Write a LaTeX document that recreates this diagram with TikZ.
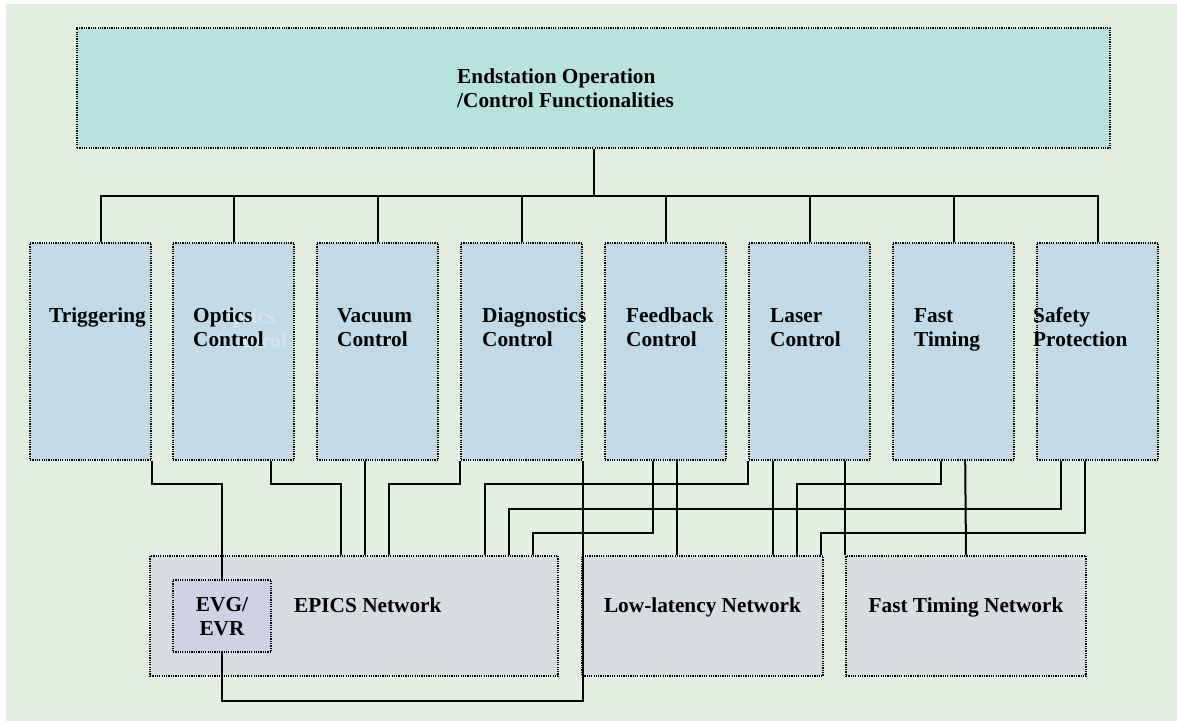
\documentclass[tikz,border=0pt]{standalone}
\usepackage{fontspec}
\setmainfont{Liberation Serif}
\usepackage{xcolor}
\usepackage{tikz}
\definecolor{bgGreen}{HTML}{E3EFDE}
\definecolor{topTeal}{HTML}{B8E2DE}
\definecolor{funcBlue}{HTML}{C2DAE5}
\definecolor{netGrey}{HTML}{D8DBE0}
\definecolor{evLilac}{HTML}{D0D1E4}
\definecolor{ghostBlue}{HTML}{D4E3EE}

\begin{document}
\begin{tikzpicture}[x=1pt,y=-1pt,font=\fontsize{21.3}{24}\selectfont\bfseries,
    box/.style={draw=black, line width=1.6pt, dash pattern=on 1.2pt off 1.1pt, inner sep=0pt,
                fill=funcBlue, minimum width=121pt, minimum height=217pt},
    net/.style={box, fill=netGrey, minimum height=120pt},
    txt/.style={anchor=base west, align=left, inner sep=0pt},
    wire/.style={draw=black, line width=2pt}]
  \useasboundingbox (0,0) rectangle (1177,721);
  \fill[bgGreen] (6,4) rectangle (1177,721);
  % ---- top level ----
  \node[box, fill=topTeal, minimum width=1033pt, minimum height=120pt] (top) at (593.5,88) {};
  \node[txt] (topT) at (457,107) {Endstation Operation\\/Control Functionalities};
  % ---- functions ----
  \node[box] (trig) at (90.5,351.5) {};
  \node[box] (opt)  at (233.5,351.5) {};
  \node[box] (vac)  at (377.5,351.5) {};
  \node[box] (diag) at (521.5,351.5) {};
  \node[box] (feed) at (665.5,351.5) {};
  \node[box] (las)  at (809.5,351.5) {};
  \node[box] (fast) at (953.5,351.5) {};
  \node[box] (safe) at (1097.5,351.5) {};
  \node[txt] (trigT) at (49,322) {Triggering};
  \node[txt, text=ghostBlue] (optG) at (216,347) {Optics\\Control};
  \node[txt] (optT)  at (193,346) {Optics\\Control};
  \node[txt] (vacT)  at (337,346) {Vacuum\\Control};
  \node[txt] (diagT) at (482,346) {Diagnostics\\Control};
  \node[txt] (feedT) at (626,346) {Feedback\\Control};
  \node[txt] (lasT)  at (770,346) {Laser\\Control};
  \node[txt] (fastT) at (914,346) {Fast\\Timing};
  \node[txt] (safeT) at (1033,346) {Safety\\Protection};
  % ---- networks ----
  \node[net, minimum width=408pt] (epics) at (354,616) {};
  \node[net, minimum width=241pt] (low)   at (702.5,616) {};
  \node[net, minimum width=240pt] (ftn)   at (966,616) {};
  \node[box, fill=evLilac, minimum width=98pt, minimum height=72pt] (evg) at (222,616) {};
  \node[txt] (epicsT) at (294,612) {EPICS Network};
  \node[txt, anchor=base] (lowT) at (702.5,612) {Low-latency Network};
  \node[txt, anchor=base] (ftnT) at (966,612) {Fast Timing Network};
  \node[txt, anchor=base, align=center] (evgT) at (222,635) {EVG/\\EVR};
  % ---- bus to the functions ----
  \coordinate (bus) at (593.5,196);
  \draw[wire] (top.south) -- (bus);
  \draw[wire] ([xshift=72pt]trig.north west) |- (safe.north |- bus) -- (safe.north);
  \draw[wire] (opt.north) -- (opt.north |- bus);
  \draw[wire] (vac.north) -- (vac.north |- bus);
  \draw[wire] (diag.north) -- (diag.north |- bus);
  \draw[wire] (feed.north) -- (feed.north |- bus);
  \draw[wire] (las.north) -- (las.north |- bus);
  \draw[wire] (fast.north) -- (fast.north |- bus);
  % ---- links to the networks ----
  \draw[wire] (trig.south east) -- ++(0,23) -| (evg.north);
  \draw[wire] ([xshift=-24pt]opt.south east) -- ++(0,23) -| ([xshift=192pt]epics.north west);
  \draw[wire] ([xshift=49pt]vac.south west) -- ([xshift=216pt]epics.north west);
  \draw[wire] (diag.south west) -- ++(0,23) -| ([xshift=240pt]epics.north west);
  \draw[wire] (diag.south east) -- ++(0,240) -| (evg.south);
  \draw[wire] ([xshift=49pt]feed.south west) -- ++(0,72) -| ([xshift=384pt]epics.north west);
  \draw[wire] ([xshift=73pt]feed.south west) -- ([xshift=96pt]low.north west);
  \draw[wire] (las.south west) -- ++(0,23) -| ([xshift=336pt]epics.north west);
  \draw[wire] ([xshift=25pt]las.south west) -- ([xshift=192pt]low.north west);
  \draw[wire] ([xshift=97pt]las.south west) -- (ftn.north west);
  \draw[wire] ([xshift=49pt]fast.south west) -- ++(0,23) -| ([xshift=216pt]low.north west);
  \draw[wire] ([xshift=73pt]fast.south west) -- (ftn.north);
  \draw[wire] ([xshift=25pt]safe.south west) -- ++(0,48) -| ([xshift=360pt]epics.north west);
  \draw[wire] ([xshift=49pt]safe.south west) -- ++(0,72) -| ([xshift=240pt]low.north west);
\end{tikzpicture}
\end{document}
